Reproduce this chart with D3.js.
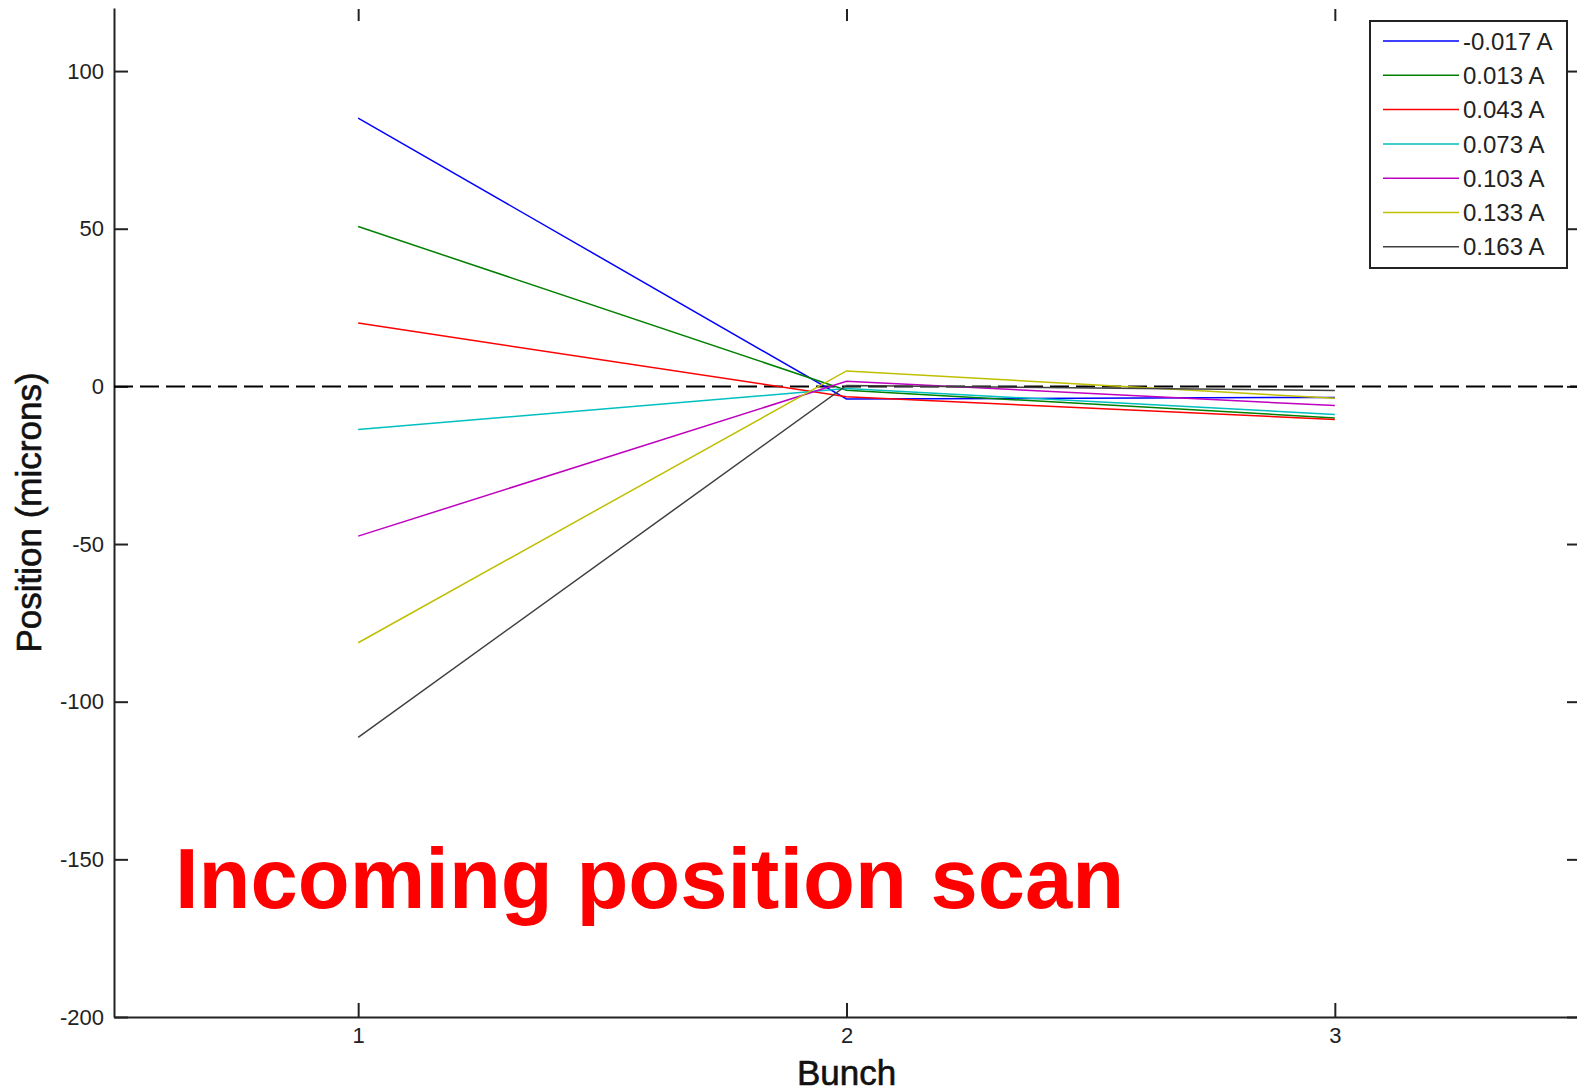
<!DOCTYPE html>
<html lang="en">
<head>
    <meta charset="utf-8">
    <title>Incoming position scan</title>
    <style type="text/css">
        body { margin: 0; background: #fff; }
        .axis text { font-family: "Liberation Sans", Arial, sans-serif; font-size: 22px; fill: #222; }
        .axis path, .axis line { stroke: #222; stroke-width: 2; }
        .top.axis path { display: none; }
        .line { fill: none; stroke-width: 1.5; }
        .zero { stroke: #000; stroke-width: 2; stroke-dasharray: 19,7; }
        .label { font-family: "Liberation Sans", Arial, sans-serif; font-size: 35px; fill: #111; stroke: #111; stroke-width: 0.6; }
        .legend text { font-family: "Liberation Sans", Arial, sans-serif; font-size: 24px; fill: #222; }
    </style>
</head>
<body>
<div id="chart"></div>
<script src="https://d3js.org/d3.v7.min.js"></script>
<script type="text/javascript">

    // bunch number on the x axis
    var bunches = [1, 2, 3];

    // corrector current for each trace (legend)
    var currents = ["-0.017 A", "0.013 A", "0.043 A", "0.073 A", "0.103 A", "0.133 A", "0.163 A"];
    var colors = ["#0000ff", "#008000", "#ff0000", "#00bfbf", "#bf00bf", "#bfbf00", "#404040"];

    // position (microns) per bunch, one array per current
    var pos_m017 = [85.1, -4.0, -3.5];
    var pos_013 = [50.7, -1.2, -10.0];
    var pos_043 = [20.1, -3.3, -10.5];
    var pos_073 = [-13.7, -0.7, -8.9];
    var pos_103 = [-47.5, 1.6, -6.1];
    var pos_133 = [-81.3, 4.9, -3.8];
    var pos_163 = [-111.3, 0.3, -1.3];
    var series = [pos_m017, pos_013, pos_043, pos_073, pos_103, pos_133, pos_163];

    var yTicks = [-200, -150, -100, -50, 0, 50, 100];

    var W = 1577, H = 1091;
    var plotL = 114, plotR = 1579, plotT = 8, plotB = 1017;

    var svg = d3.select("#chart")
            .append("svg")
            .attr("width", W)
            .attr("height", H);

    var xScale = d3.scaleLinear()
            .domain([0.5, 3.5])
            .range([plotL, plotR]);

    var yScale = d3.scaleLinear()
            .domain([-200, 120])
            .range([plotB, plotT]);

    // plain hyphen minus like the original figure
    var fmt = function(d) { return String(d); };

    // axes, MATLAB style: ticks pointing inward
    svg.append("g")
            .attr("class", "x axis")
            .attr("transform", "translate(0," + plotB + ")")
            .call(d3.axisBottom(xScale).tickValues(bunches).tickFormat(fmt)
                    .tickSizeInner(-14).tickSizeOuter(0).tickPadding(10));

    svg.append("g")
            .attr("class", "top axis")
            .attr("transform", "translate(0," + (plotT + 1) + ")")
            .call(d3.axisTop(xScale).tickValues(bunches).tickSizeInner(-12).tickSizeOuter(0).tickFormat(""));

    svg.append("g")
            .attr("class", "y axis")
            .attr("transform", "translate(" + plotL + ",0)")
            .call(d3.axisLeft(yScale).tickValues(yTicks).tickFormat(fmt)
                    .tickSizeInner(-14).tickSizeOuter(0).tickPadding(10));

    svg.append("g")
            .attr("class", "y axis")
            .attr("transform", "translate(" + plotR + ",0)")
            .call(d3.axisRight(yScale).tickValues(yTicks).tickSizeInner(-12).tickSizeOuter(0).tickFormat(""));

    // zero reference line
    svg.append("line")
            .attr("class", "zero")
            .attr("x1", xScale(0.5))
            .attr("x2", xScale(3.5))
            .attr("y1", yScale(0))
            .attr("y2", yScale(0));

    var line = d3.line()
            .x(function(d, i) { return xScale(bunches[i]); })
            .y(function(d) { return yScale(d); });

    svg.selectAll(".line")
            .data(series)
            .enter().append("path")
            .attr("class", "line")
            .attr("stroke", function(d, i) { return colors[i]; })
            .attr("d", line);

    // axis labels
    svg.append("text")
            .attr("class", "label")
            .attr("x", (plotL + plotR) / 2)
            .attr("y", 1085)
            .attr("text-anchor", "middle")
            .text("Bunch");

    svg.append("text")
            .attr("class", "label")
            .attr("transform", "translate(41," + ((plotT + plotB) / 2) + ") rotate(-90)")
            .attr("text-anchor", "middle")
            .text("Position (microns)");

    // legend
    var lg = svg.append("g").attr("class", "legend");
    lg.append("rect")
            .attr("x", 1370).attr("y", 21)
            .attr("width", 197).attr("height", 247)
            .attr("fill", "#fff")
            .attr("stroke", "#222")
            .attr("stroke-width", 2);

    var rows = lg.selectAll(".row")
            .data(currents)
            .enter().append("g")
            .attr("class", "row")
            .attr("transform", function(d, i) { return "translate(0," + (41 + i * 34.3) + ")"; });

    rows.append("line")
            .attr("x1", 1383).attr("x2", 1459)
            .attr("stroke", function(d, i) { return colors[i]; })
            .attr("stroke-width", 1.5);

    rows.append("text")
            .attr("x", 1463)
            .attr("dy", "0.36em")
            .text(function(d) { return d; });

    // annotation
    svg.append("text")
            .attr("x", 175)
            .attr("y", 908)
            .attr("font-family", "Liberation Sans, Arial, sans-serif")
            .attr("font-weight", "bold")
            .attr("font-size", 85)
            .attr("fill", "#ff0000")
            .text("Incoming position scan");

</script>
</body>
</html>
